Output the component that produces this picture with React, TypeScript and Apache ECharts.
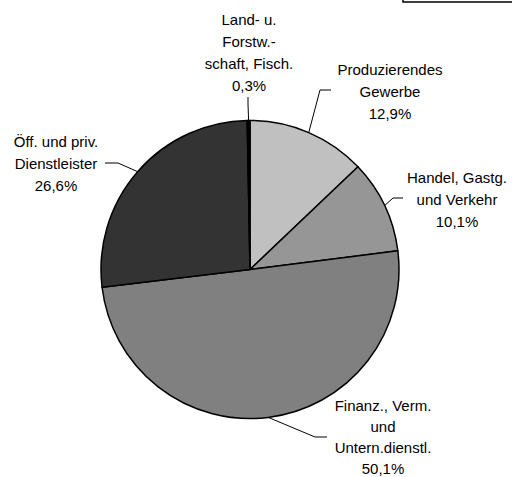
import React, { useEffect, useRef } from "react";
import * as echarts from "echarts";

const categories = [
  "Produzierendes\nGewerbe",
  "Handel, Gastg.\nund Verkehr",
  "Finanz., Verm.\nund\nUntern.dienstl.",
  "Öff. und priv.\nDienstleister",
  "Land- u.\nForstw.-\nschaft, Fisch.",
];
const shares = [12.9, 10.1, 50.1, 26.6, 0.3];
const shareLabels = ["12,9%", "10,1%", "50,1%", "26,6%", "0,3%"];
const sliceColors = ["#c0c0c0", "#969696", "#808080", "#333333", "#000000"];

// label placement (text centre) and leader-line bends, by slice index
const labelPos: [number, number][] = [
  [390, 91],
  [457, 199.5],
  [383, 437],
  [56, 163],
  [249, 52],
];
const labelLineHeights = [22, 22, 21, 22, 22];
const lineBends: [number, number][][] = [
  [[320, 90], [331, 90]],
  [[393, 198], [403, 198]],
  [[315, 437], [327, 437]],
  [[118, 163], [105, 163]],
  [[248, 104], [248, 97]],
];

export default function App() {
  const ref = useRef<HTMLDivElement>(null);
  useEffect(() => {
    if (!ref.current) return;
    const chart = echarts.init(ref.current, null, { renderer: "svg" });
    chart.setOption({
      animation: false,
      backgroundColor: "#ffffff",
      graphic: [
        {
          type: "rect",
          shape: { x: 403, y: -20, width: 130, height: 22 },
          style: { fill: "#fff", stroke: "#000", lineWidth: 1.5 },
        },
      ],
      series: [
        {
          type: "pie",
          center: [250, 269.5],
          radius: 149,
          startAngle: 90,
          clockwise: true,
          avoidLabelOverlap: false,
          data: categories.map((c, i) => ({
            name: c,
            value: shares[i],
            itemStyle: { color: sliceColors[i] },
            label: { lineHeight: labelLineHeights[i] },
          })),
          itemStyle: { borderColor: "#000", borderWidth: 1.5 },
          label: {
            show: true,
            position: "outside",
            formatter: (p: any) => `${p.name}\n${shareLabels[p.dataIndex]}`,
            fontFamily: "Liberation Sans, Arial, sans-serif",
            fontSize: 15,
            lineHeight: 22,
            color: "#000",
            align: "center",
          },
          labelLine: {
            show: true,
            length: 10,
            length2: 10,
            lineStyle: { color: "#000", width: 1 },
          },
          labelLayout: (p: any) => {
            const i = p.dataIndex;
            const start = p.labelLinePoints ? p.labelLinePoints[0] : lineBends[i][0];
            return {
              x: labelPos[i][0],
              y: labelPos[i][1],
              align: "center",
              verticalAlign: "middle",
              labelLinePoints: [start, lineBends[i][0], lineBends[i][1]],
            };
          },
          emphasis: { disabled: true },
        },
      ],
    });
    return () => chart.dispose();
  }, []);
  return (
    <div
      ref={ref}
      style={{ position: "fixed", left: 0, top: 0, width: 512, height: 477 }}
    />
  );
}
